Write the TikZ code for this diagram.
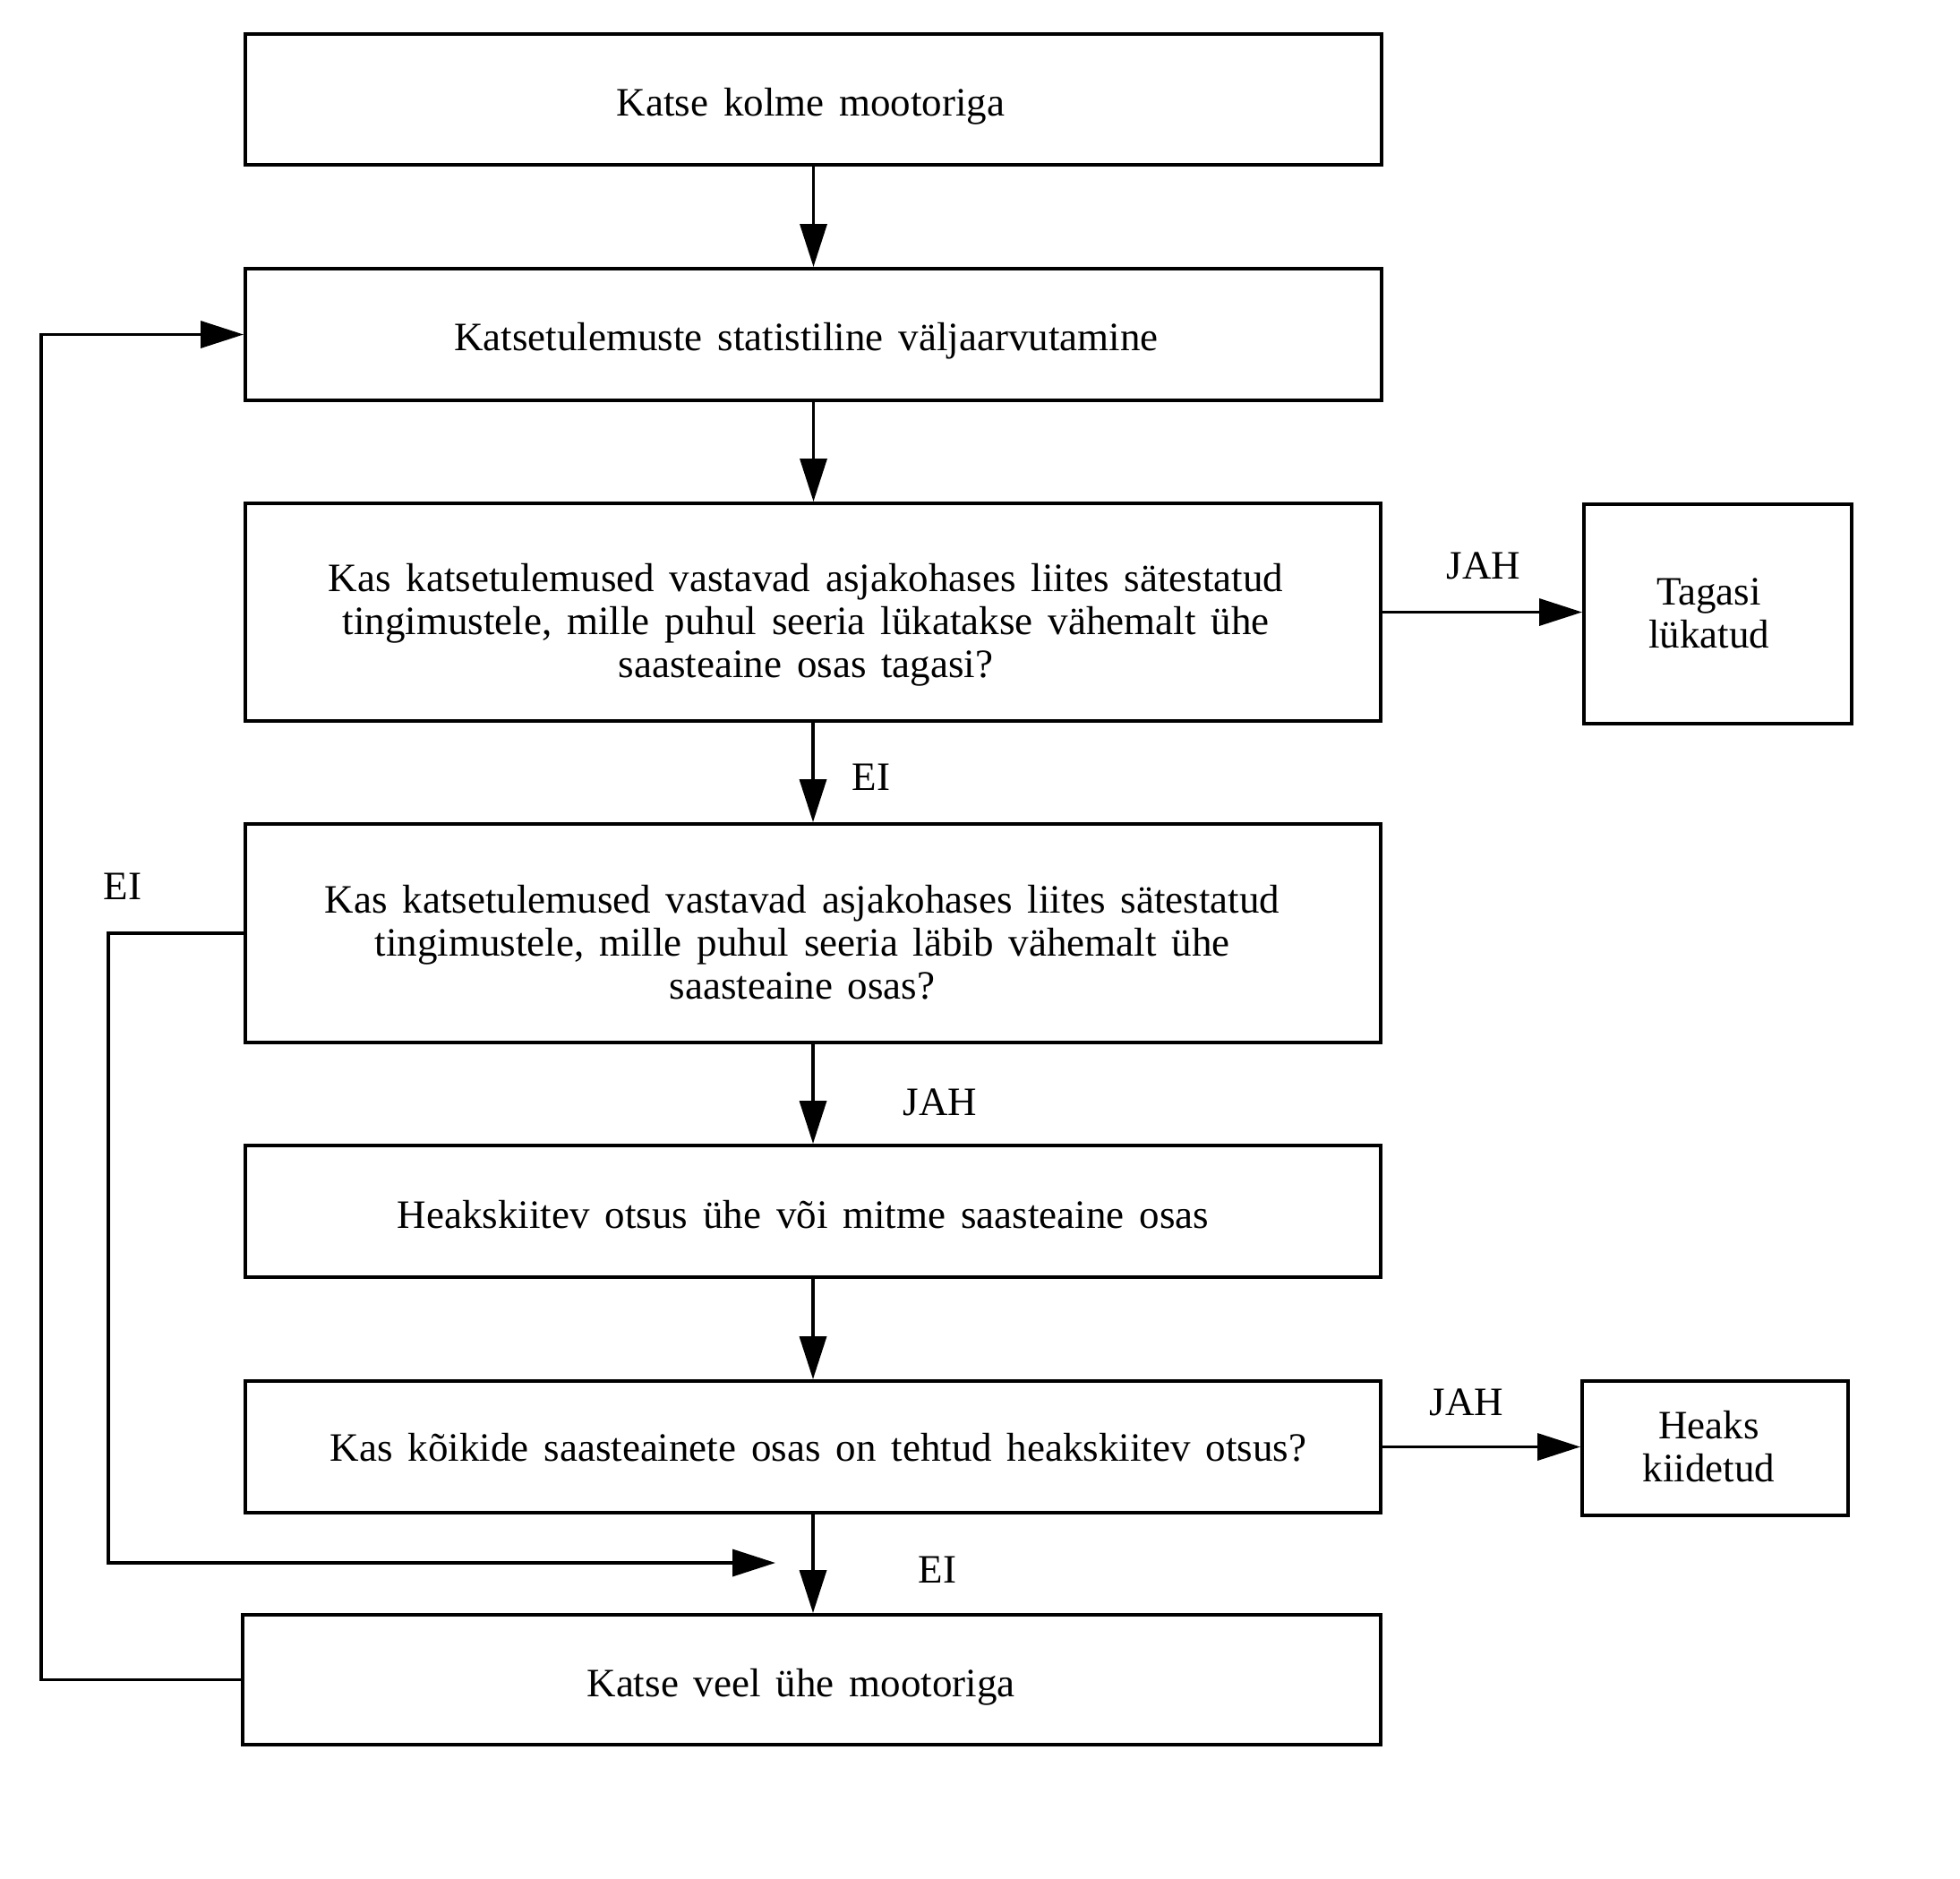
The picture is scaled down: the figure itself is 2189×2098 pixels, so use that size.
\documentclass[tikz,border=0pt]{standalone}
\usepackage{fontspec}
\setmainfont[WordSpace=1.5]{Liberation Serif}
\usetikzlibrary{arrows.meta}
\begin{document}
\begin{tikzpicture}[x=1pt,y=-1pt,
  box/.style={draw, line width=4pt, inner sep=0pt},
  txt/.style={align=center, inner sep=0pt, font=\fontsize{45}{48}\selectfont},
  lbl/.style={inner sep=0pt, font=\fontsize{45}{48}\selectfont},
  conn/.style={line width=3.5pt, -{Triangle[length=48pt,width=30pt]}}]
\useasboundingbox (0,0) rectangle (2189,2098);
\fill[white] (0,0) rectangle (2189,2098);

% boxes
\node[box, minimum width=1269pt, minimum height=146pt] (b1) at (908.5,111) {};
\node[box, minimum width=1269pt, minimum height=147pt] (b2) at (908.5,373.5) {};
\node[box, minimum width=1268pt, minimum height=243pt] (b3) at (908,683.5) {};
\node[box, minimum width=299pt, minimum height=245pt] (tag) at (1918.5,685.5) {};
\node[box, minimum width=1268pt, minimum height=244pt] (b4) at (908,1042) {};
\node[box, minimum width=1268pt, minimum height=147pt] (b5) at (908,1352.5) {};
\node[box, minimum width=1268pt, minimum height=147pt] (b6) at (908,1615.5) {};
\node[box, minimum width=297pt, minimum height=150pt] (hk) at (1915.5,1617) {};
\node[box, minimum width=1271pt, minimum height=145pt] (b7) at (906.5,1875.5) {};

% texts
\node[txt] (t1) at ([xshift=-3pt,yshift=-8pt]b1.center) {Katse kolme mootoriga};
\node[txt] (t2) at ([xshift=-8pt,yshift=-7pt]b2.center) {Katsetulemuste statistiline väljaarvutamine};
\node[txt] (t3) at ([xshift=-8pt,yshift=-14pt]b3.center) {Kas katsetulemused vastavad asjakohases liites sätestatud\\tingimustele, mille puhul seeria lükatakse vähemalt ühe\\saasteaine osas tagasi?};
\node[txt] (t4) at ([xshift=-10pt,yshift=1pt]tag.center) {Tagasi\\lükatud};
\node[txt] (t5) at ([xshift=-12pt,yshift=-10pt]b4.center) {Kas katsetulemused vastavad asjakohases liites sätestatud\\tingimustele, mille puhul seeria läbib vähemalt ühe\\saasteaine osas?};
\node[txt] (t6) at ([xshift=-11pt,yshift=-4pt]b5.center) {Heakskiitev otsus ühe või mitme saasteaine osas};
\node[txt] (t7) at ([xshift=6pt,yshift=-1pt]b6.center) {Kas kõikide saasteainete osas on tehtud heakskiitev otsus?};
\node[txt] (t8) at ([xshift=-7pt,yshift=2pt]hk.center) {Heaks\\kiidetud};
\node[txt] (t9) at ([xshift=-12pt,yshift=-8pt]b7.center) {Katse veel ühe mootoriga};

% labels
\node[lbl] (l1) at (1657,632) {JAH};
\node[lbl] (l2) at (973,868) {EI};
\node[lbl] (l3) at (137,990) {EI};
\node[lbl] (l4) at (1050,1231) {JAH};
\node[lbl] (l5) at (1638,1566) {JAH};
\node[lbl] (l6) at (1047,1753) {EI};

\coordinate (m) at (866,1745);

% connectors
\draw[conn] (b1.south) -- (b1.south |- b2.north);
\draw[conn] (b2.south) -- (b2.south |- b3.north);
\draw[conn] (b3.south) -- (b3.south |- b4.north);
\draw[conn] (b4.south) -- (b4.south |- b5.north);
\draw[conn] (b5.south) -- (b5.south |- b6.north);
\draw[conn] (b6.south) -- (b6.south |- b7.north);
\draw[conn] (b3.east) -- (b3.east -| tag.west);
\draw[conn] (b6.east) -- (b6.east -| hk.west);
\draw[conn] (b7.west) -- (46,1875.5) |- (b2.west);
\draw[conn] (b4.west) -- (121,1042) |- (m);
\end{tikzpicture}
\end{document}
